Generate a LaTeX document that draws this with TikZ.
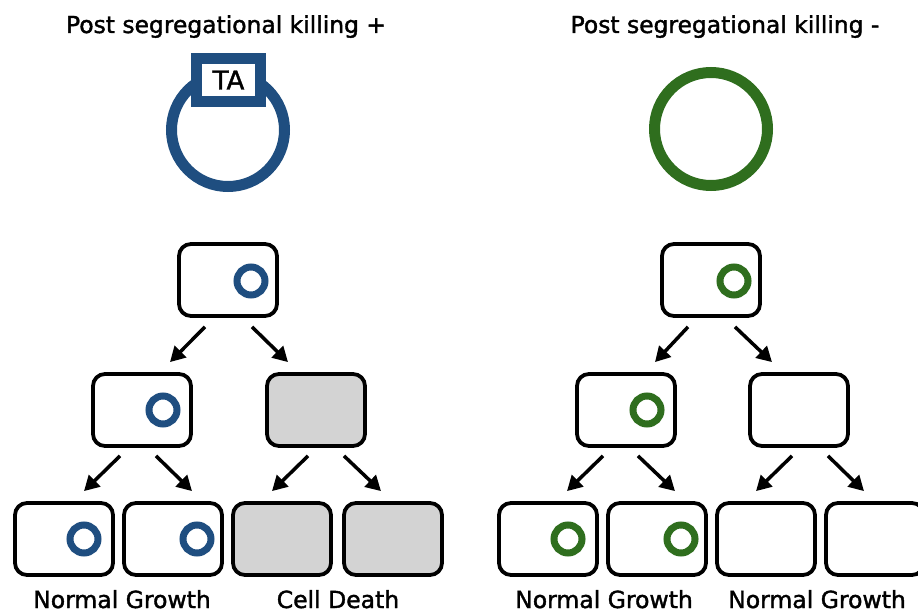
\documentclass[tikz,border=0pt]{standalone}
\usepackage{fontspec}
\setmainfont{DejaVu Sans}
\newfontfamily\medfont{DejaVu Sans}[FakeBold=1.6]
\usepackage{xcolor}
\definecolor{plasblue}{HTML}{1F4E80}
\definecolor{plasgreen}{HTML}{2F6E1E}
\definecolor{deadgray}{HTML}{D3D3D3}
\usetikzlibrary{arrows.meta}

\begin{document}
\begin{tikzpicture}[x=1pt, y=-1pt,
    every node/.style={inner sep=0pt},
    title/.style={font=\medfont\fontsize{23.4}{26}\selectfont},
    lbl/.style={font=\medfont\fontsize{23.5}{28}\selectfont},
    cell/.style={draw, line width=3.8pt, rounded corners=12pt, fill=white,
                 minimum width=98pt, minimum height=72pt},
    dead/.style={cell, fill=deadgray},
    ring/.style={circle, draw, line width=7pt, minimum size=28pt},
    ringb/.style={ring, draw=plasblue},
    ringg/.style={ring, draw=plasgreen},
    bigring/.style={circle, draw, line width=11pt, minimum size=113pt},
    arr/.style={-{Triangle[length=15pt,width=16pt]}, line width=3.5pt}]
  \useasboundingbox (0,0) rectangle (918,612);

  % titles and plasmids
  \node[title, anchor=base] (tplus)  at (226,33) {Post segregational killing +};
  \node[title, anchor=base] (tminus) at (725,33) {Post segregational killing -};
  \node[bigring, draw=plasblue]  (plasTA)   at (228,130) {};
  \node[draw=plasblue, line width=11pt, fill=white, minimum width=64pt,
        minimum height=43pt, font=\medfont\fontsize{26}{28}\selectfont] (ta) at (228.5,80) {TA};
  \node[bigring, draw=plasgreen] (plasnone) at (711,129) {};

  % left tree
  \node[cell] (pa) at (228,280) {};
  \node[ringb] at (251,281) {};
  \node[cell] (qa) at (142,410) {};
  \node[ringb] at (163,410) {};
  \node[dead] (qb) at (316,410) {};
  \node[cell] (ra) at (64,539) {};
  \node[ringb] at (84,539) {};
  \node[cell] (rb) at (173,539) {};
  \node[ringb] at (197,539) {};
  \node[dead] (rc) at (282,539) {};
  \node[dead] (rd) at (393,539) {};
  \node[lbl, anchor=base] (normL) at (122,608) {Normal Growth};
  \node[lbl, anchor=base] (death) at (338,608) {Cell Death};

  \draw[arr] ([xshift=-23pt,yshift=-9pt]pa.south) -- ([xshift=28pt,yshift=10pt]qa.north);
  \draw[arr] ([xshift=24pt,yshift=-9pt]pa.south) -- ([xshift=-28pt,yshift=10pt]qb.north);
  \draw[arr] ([xshift=-22pt,yshift=-8pt]qa.south) -- ([xshift=20pt,yshift=10pt]ra.north);
  \draw[arr] ([xshift=14pt,yshift=-8pt]qa.south) -- ([xshift=19pt,yshift=10pt]rb.north);
  \draw[arr] ([xshift=-8pt,yshift=-8pt]qb.south) -- ([xshift=-10pt,yshift=10pt]rc.north);
  \draw[arr] ([xshift=28pt,yshift=-8pt]qb.south) -- ([xshift=-12pt,yshift=10pt]rd.north);

  % right tree
  \node[cell] (sa) at (711,280) {};
  \node[ringg] at (734,281) {};
  \node[cell] (ta2) at (626,410) {};
  \node[ringg] at (647,410) {};
  \node[cell] (tb) at (799,410) {};
  \node[cell] (ua) at (548,539) {};
  \node[ringg] at (568,539) {};
  \node[cell] (ub) at (657,539) {};
  \node[ringg] at (681,539) {};
  \node[cell] (uc) at (766,539) {};
  \node[cell] (ud) at (875,539) {};
  \node[lbl, anchor=base] (normR1) at (604,608) {Normal Growth};
  \node[lbl, anchor=base] (normR2) at (817,608) {Normal Growth};

  \draw[arr] ([xshift=-23pt,yshift=-9pt]sa.south) -- ([xshift=29pt,yshift=10pt]ta2.north);
  \draw[arr] ([xshift=24pt,yshift=-9pt]sa.south) -- ([xshift=-27pt,yshift=10pt]tb.north);
  \draw[arr] ([xshift=-23pt,yshift=-8pt]ta2.south) -- ([xshift=19pt,yshift=10pt]ua.north);
  \draw[arr] ([xshift=12pt,yshift=-8pt]ta2.south) -- ([xshift=18pt,yshift=10pt]ub.north);
  \draw[arr] ([xshift=-7pt,yshift=-8pt]tb.south) -- ([xshift=-10pt,yshift=10pt]uc.north);
  \draw[arr] ([xshift=29pt,yshift=-8pt]tb.south) -- ([xshift=-11pt,yshift=10pt]ud.north);
\end{tikzpicture}
\end{document}
